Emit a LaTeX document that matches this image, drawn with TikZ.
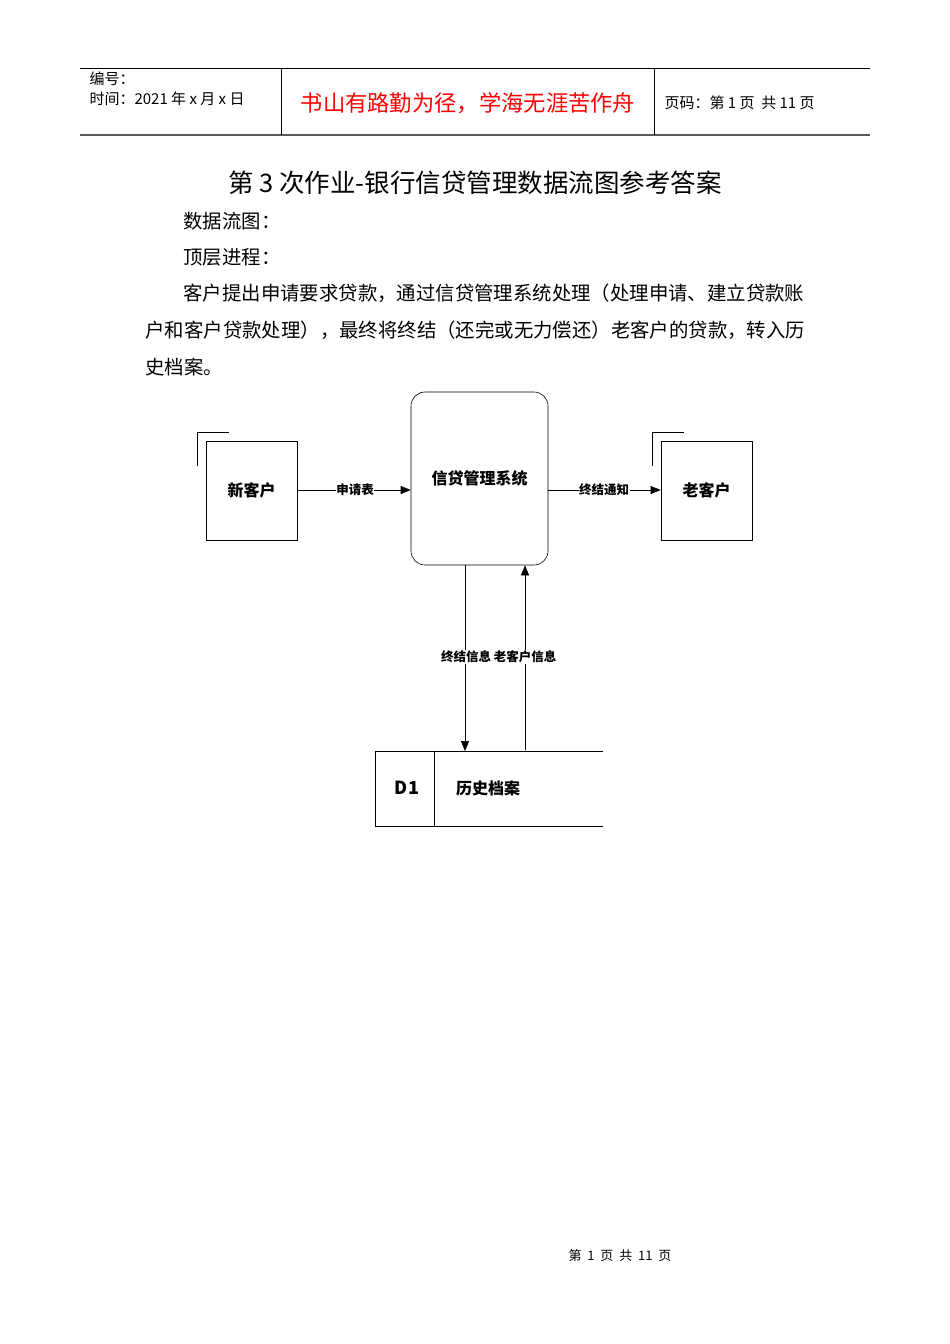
\documentclass[tikz,border=0pt]{standalone}
\usepackage{fontspec}
\setmainfont{Noto Sans CJK SC}
\usetikzlibrary{arrows.meta}
\begin{document}
\begin{tikzpicture}[x=1pt,y=-1pt,
  ent/.style={draw,line width=0.6pt,minimum width=91pt,minimum height=99pt,font=\fontsize{16}{16}\selectfont\bfseries},
  flow/.style={line width=0.6pt,-{Triangle[length=10pt,width=8pt]}},
  lab/.style={fill=white,inner sep=0.5pt,font=\fontsize{12.5}{12.5}\selectfont\bfseries},
  txt/.style={anchor=west,font=\fontsize{19.4}{19.4}\selectfont}]
\useasboundingbox (0,0) rectangle (950,1344);
% header
\draw[line width=0.6pt] (80,68) -- (870,68);
\draw[line width=1.2pt,gray!70!black] (80,135) -- (870,135);
\draw[line width=0.6pt] (281,68) -- (281,135) (654,68) -- (654,135);
\node[anchor=west,font=\fontsize{15}{15}\selectfont] (bh) at (86,79) {编号：};
\node[anchor=west,font=\fontsize{15}{15}\selectfont] (sj) at (86,99) {时间：2021 年 x 月 x 日};
\node[text=red,font=\fontsize{22.3}{22.3}\selectfont] (motto) at (468,103) {书山有路勤为径，学海无涯苦作舟};
\node[anchor=west,font=\fontsize{15}{15}\selectfont] (ym) at (661,103) {页码：第 1 页\ \ 共 11 页};
% text
\node[font=\fontsize{25.5}{25.5}\selectfont] (title) at (475,183) {第 3 次作业-银行信贷管理数据流图参考答案};
\node[txt] (t1) at (180,221) {数据流图：};
\node[txt] (t2) at (180,257) {顶层进程：};
\node[txt] (t3) at (180,293) {客户提出申请要求贷款，通过信贷管理系统处理（处理申请、建立贷款账};
\node[txt] (t4) at (142,330) {户和客户贷款处理），最终将终结（还完或无力偿还）老客户的贷款，转入历};
\node[txt] (t5) at (142,367) {史档案。};
% diagram
\node[ent] (nc) at (251.5,490.5) {新客户};
\draw[line width=0.6pt] (197,466) -- (197,432) -- (229,432);
\node[ent] (oc) at (706.5,490.5) {老客户};
\draw[line width=0.6pt] (652,466) -- (652,432) -- (684,432);
\node[draw,line width=0.6pt,rounded corners=14pt,minimum width=137pt,minimum height=173pt] (sys) at (479.5,478.5) {};
\node[font=\fontsize{16}{16}\selectfont\bfseries] (syst) at (479.5,478) {信贷管理系统};
\draw[flow] (nc.east |- 0,490) -- (sys.west |- 0,490);
\node[lab] (l1) at (355,490) {申请表};
\draw[flow] (sys.east |- 0,490) -- (oc.west |- 0,490);
\node[lab] (l2) at (604,490) {终结通知};
% store
\coordinate (s1) at (603,751);
\coordinate (s2) at (603,826);
\draw[line width=0.6pt] (s1) -- (375,751) -- (375,826) -- (s2);
\draw[line width=0.6pt] (434,751) -- (434,826);
\node[font=\fontsize{18}{18}\selectfont\bfseries] (d1) at (407,788) {D1};
\node[font=\fontsize{16}{16}\selectfont\bfseries] (hist) at (488,788) {历史档案};
\coordinate (sd) at (465,751);
\coordinate (su) at (525,750);
\draw[flow] (sys.south -| sd) -- (sd);
\draw[flow] (su) -- (sys.south -| su);
\node[lab] (l3) at (466,657) {终结信息};
\node[lab] (l4) at (525,657) {老客户信息};
% footer
\node[font=\fontsize{13}{13}\selectfont] (foot) at (620,1256) {第\ \ 1\ \ 页\ \ 共\ \ 11\ \ 页};
\end{tikzpicture}
\end{document}
